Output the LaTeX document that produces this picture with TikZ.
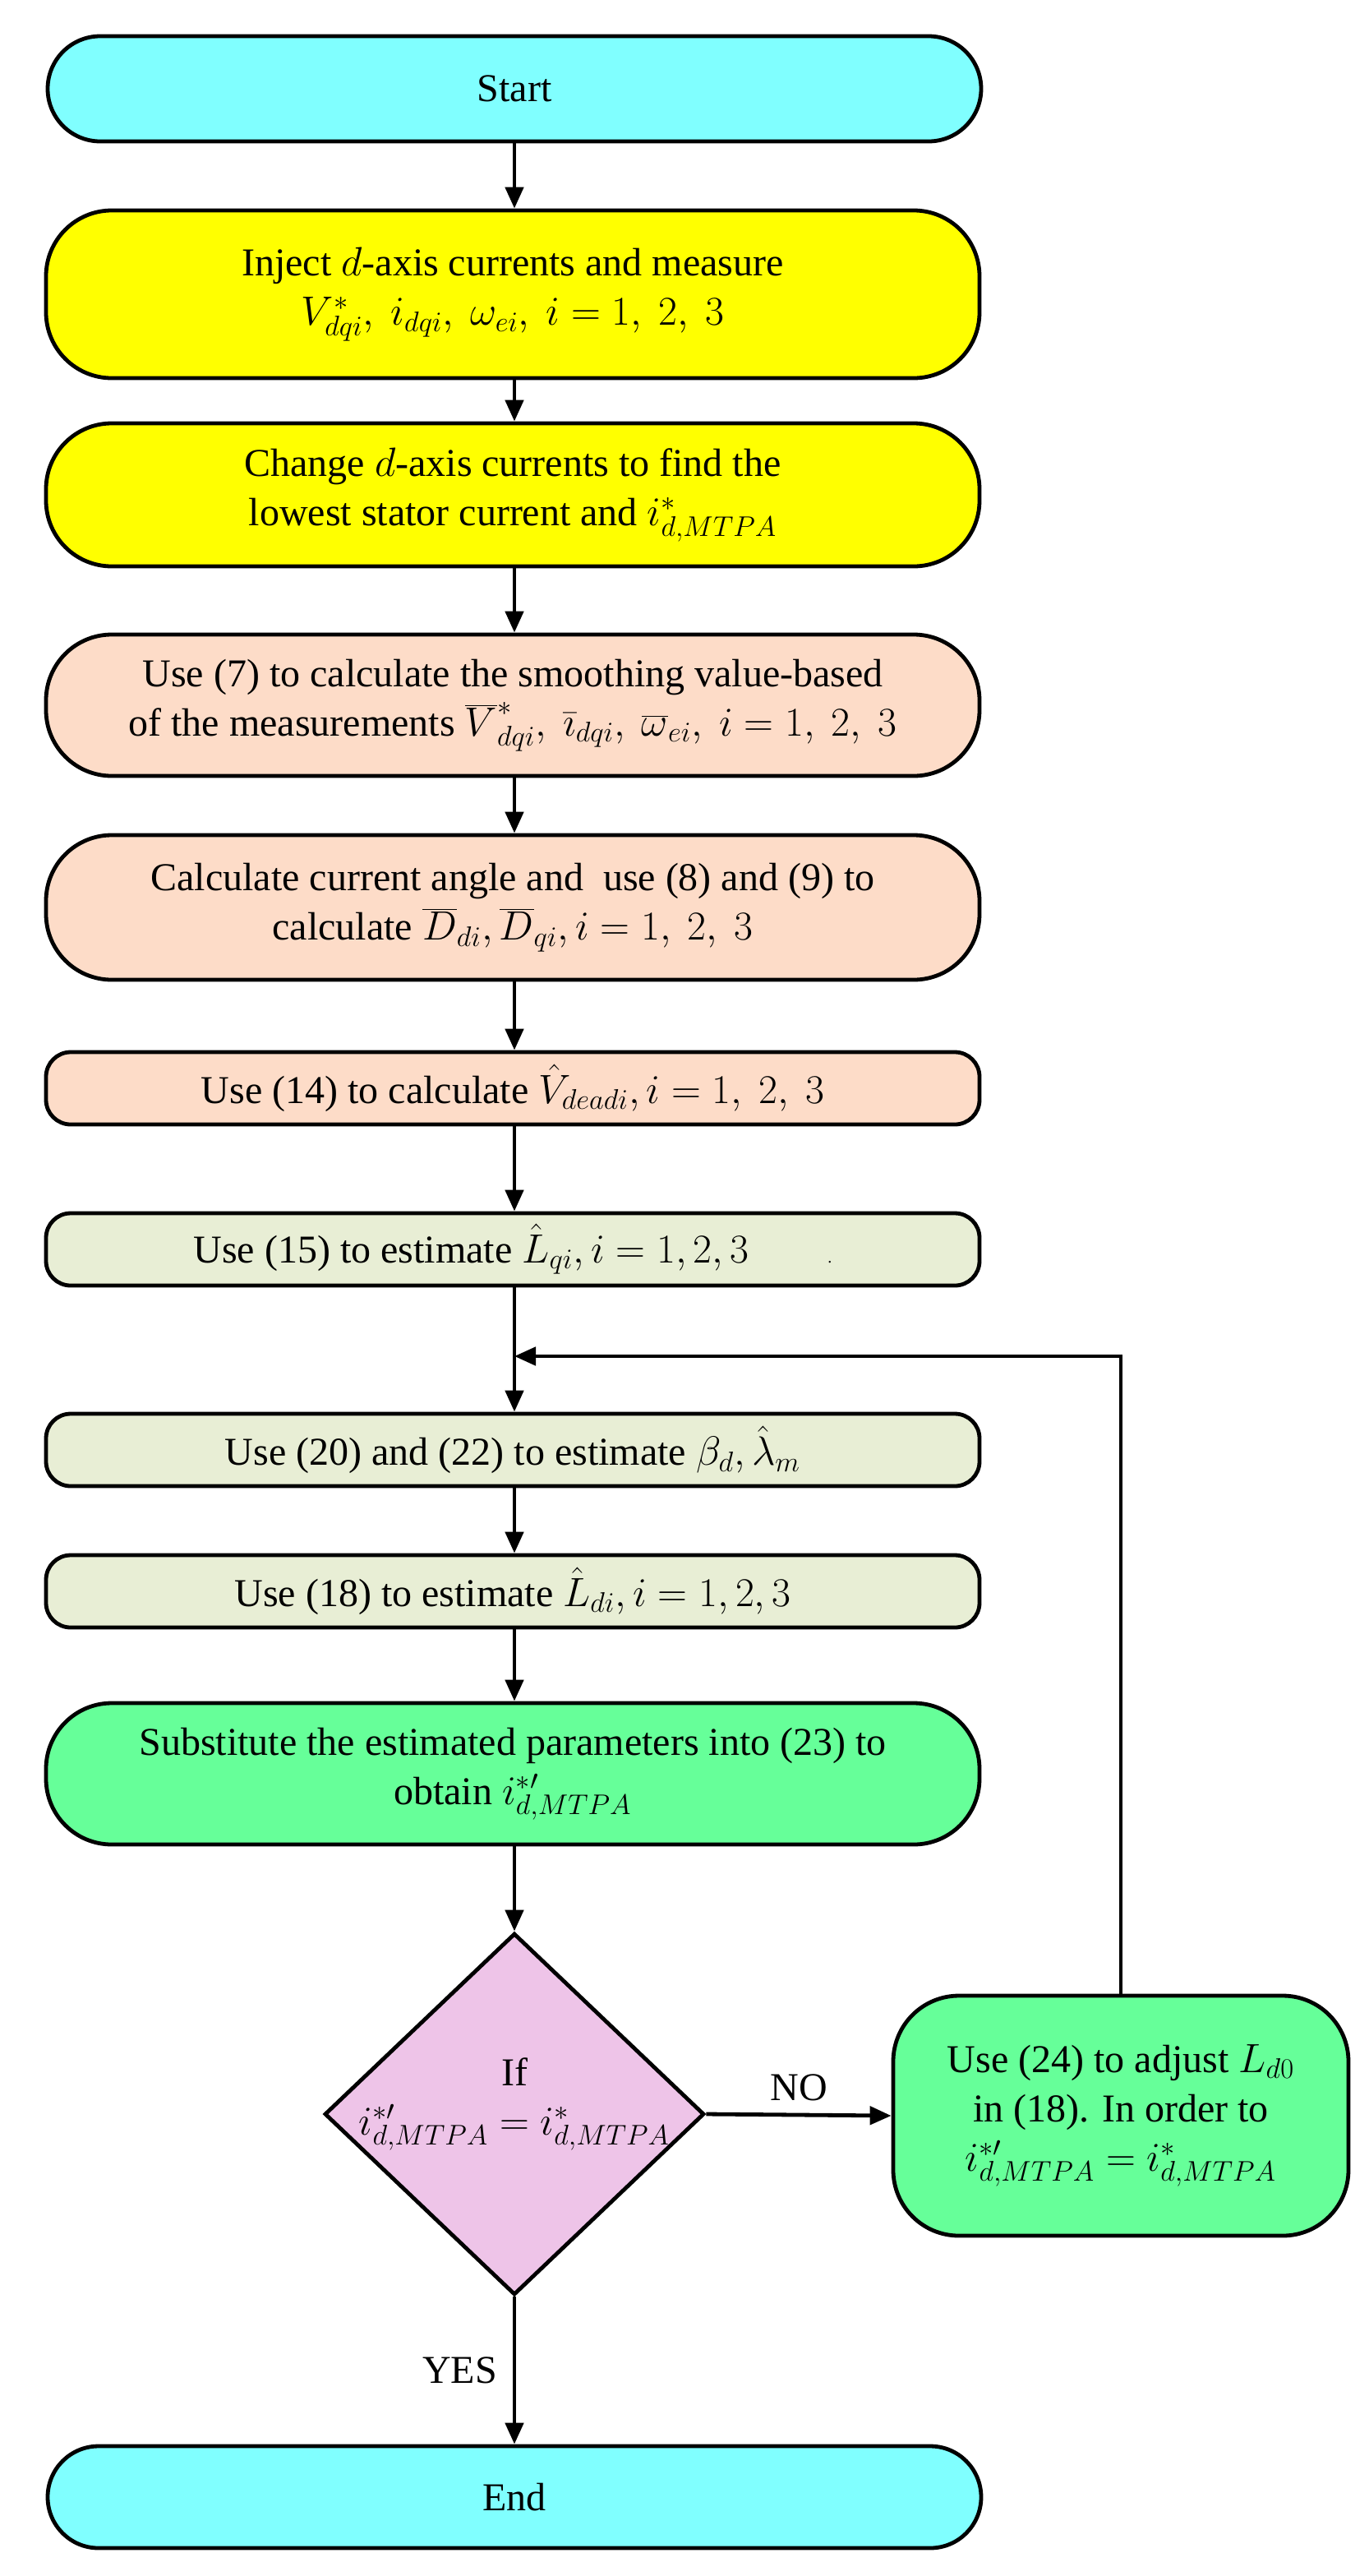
\documentclass[tikz,border=0pt]{standalone}
\usepackage{fontspec}
\setmainfont{Liberation Serif}
\usetikzlibrary{arrows.meta,shapes.geometric}
\definecolor{cy}{HTML}{80FFFF}
\definecolor{ye}{HTML}{FFFF00}
\definecolor{pe}{HTML}{FDDCC8}
\definecolor{lg}{HTML}{E8EED5}
\definecolor{gr}{HTML}{66FF99}
\definecolor{pk}{HTML}{EEC4E8}
\begin{document}
\begin{tikzpicture}[x=1pt,y=-1pt,
  every node/.style={font=\fontsize{24}{30}\selectfont},
  box/.style={draw,line width=2.4pt,rounded corners=#1,align=center,minimum width=568pt,inner sep=0pt},
  arr/.style={line width=2.4pt,-{Triangle[length=13pt,width=11pt]}}]
\useasboundingbox (0,0) rectangle (833,1567);
\node[box=32pt,fill=cy,minimum height=64pt] (s) at (313,54) {Start};
\node[box=40pt,fill=ye,minimum height=102pt] (b2) at (312,179) {Inject $d$-axis currents and measure\\ $V^*_{dqi},\ i_{dqi},\ \omega_{ei},\ i=1,\ 2,\ 3$};
\node[box=40pt,fill=ye,minimum height=87pt] (b3) at (312,301) {Change $d$-axis currents to find the\\ lowest stator current and $i^*_{d,MTPA}$};
\node[box=40pt,fill=pe,minimum height=86pt] (b4) at (312,429) {Use (7) to calculate the smoothing value-based\\ of the measurements $\overline{V}^*_{dqi},\ \bar{\imath}_{dqi},\ \overline{\omega}_{ei},\ i=1,\ 2,\ 3$};
\node[box=40pt,fill=pe,minimum height=88pt] (b5) at (312,552) {Calculate current angle and \ use (8) and (9) to\\ calculate $\overline{D}_{di}, \overline{D}_{qi}, i=1,\ 2,\ 3$};
\node[box=15pt,fill=pe,minimum height=44pt] (b6) at (312,662) {Use (14) to calculate $\hat{V}_{deadi}, i=1,\ 2,\ 3$};
\node[box=15pt,fill=lg,minimum height=44pt] (b7) at (312,760) {Use (15) to estimate $\hat{L}_{qi}, i=1,2,3$\qquad{\fontsize{10}{10}\selectfont.}};
\coordinate (j) at (313,825);
\node[box=15pt,fill=lg,minimum height=44pt] (b8) at (312,882) {Use (20) and (22) to estimate $\beta_d, \hat{\lambda}_m$};
\node[box=15pt,fill=lg,minimum height=44pt] (b9) at (312,968) {Use (18) to estimate $\hat{L}_{di}, i=1,2,3$};
\node[box=40pt,fill=gr,minimum height=86pt] (b10) at (312,1079) {Substitute the estimated parameters into (23) to\\ obtain $i^{*\prime}_{d,MTPA}$};
\node[diamond,draw,line width=2.4pt,fill=pk,minimum width=231pt,minimum height=220pt,inner sep=0pt] (d) at (313,1286) {};
\node[align=center] (dt) at (313,1280) {If\\ $i^{*\prime}_{d,MTPA}=i^*_{d,MTPA}$};
\node[box=40pt,fill=gr,minimum width=277pt,minimum height=146pt] (r) at (682,1287) {Use (24) to adjust $L_{d0}$\\ in (18). In order to\\ $i^{*\prime}_{d,MTPA}=i^*_{d,MTPA}$};
\node[box=31pt,fill=cy,minimum height=62pt] (e) at (313,1519) {End};
\draw[arr] (s.south -| 313,0) -- (b2.north -| 313,0);
\draw[arr] (b2.south -| 313,0) -- (b3.north -| 313,0);
\draw[arr] (b3.south -| 313,0) -- (b4.north -| 313,0);
\draw[arr] (b4.south -| 313,0) -- (b5.north -| 313,0);
\draw[arr] (b5.south -| 313,0) -- (b6.north -| 313,0);
\draw[arr] (b6.south -| 313,0) -- (b7.north -| 313,0);
\draw[line width=2.4pt] (b7.south -| 313,0) -- (j);
\draw[arr] (j) -- (b8.north -| 313,0);
\draw[arr] (b8.south -| 313,0) -- (b9.north -| 313,0);
\draw[arr] (b9.south -| 313,0) -- (b10.north -| 313,0);
\draw[arr] (b10.south -| 313,0) -- (d.north);
\draw[arr] (d.east) -- node[above=4pt]{NO} (r.west);
\draw[arr] (r.north) |- (j);
\draw[arr] (d.south) -- node[left=6pt]{YES} (e.north);
\end{tikzpicture}
\end{document}
